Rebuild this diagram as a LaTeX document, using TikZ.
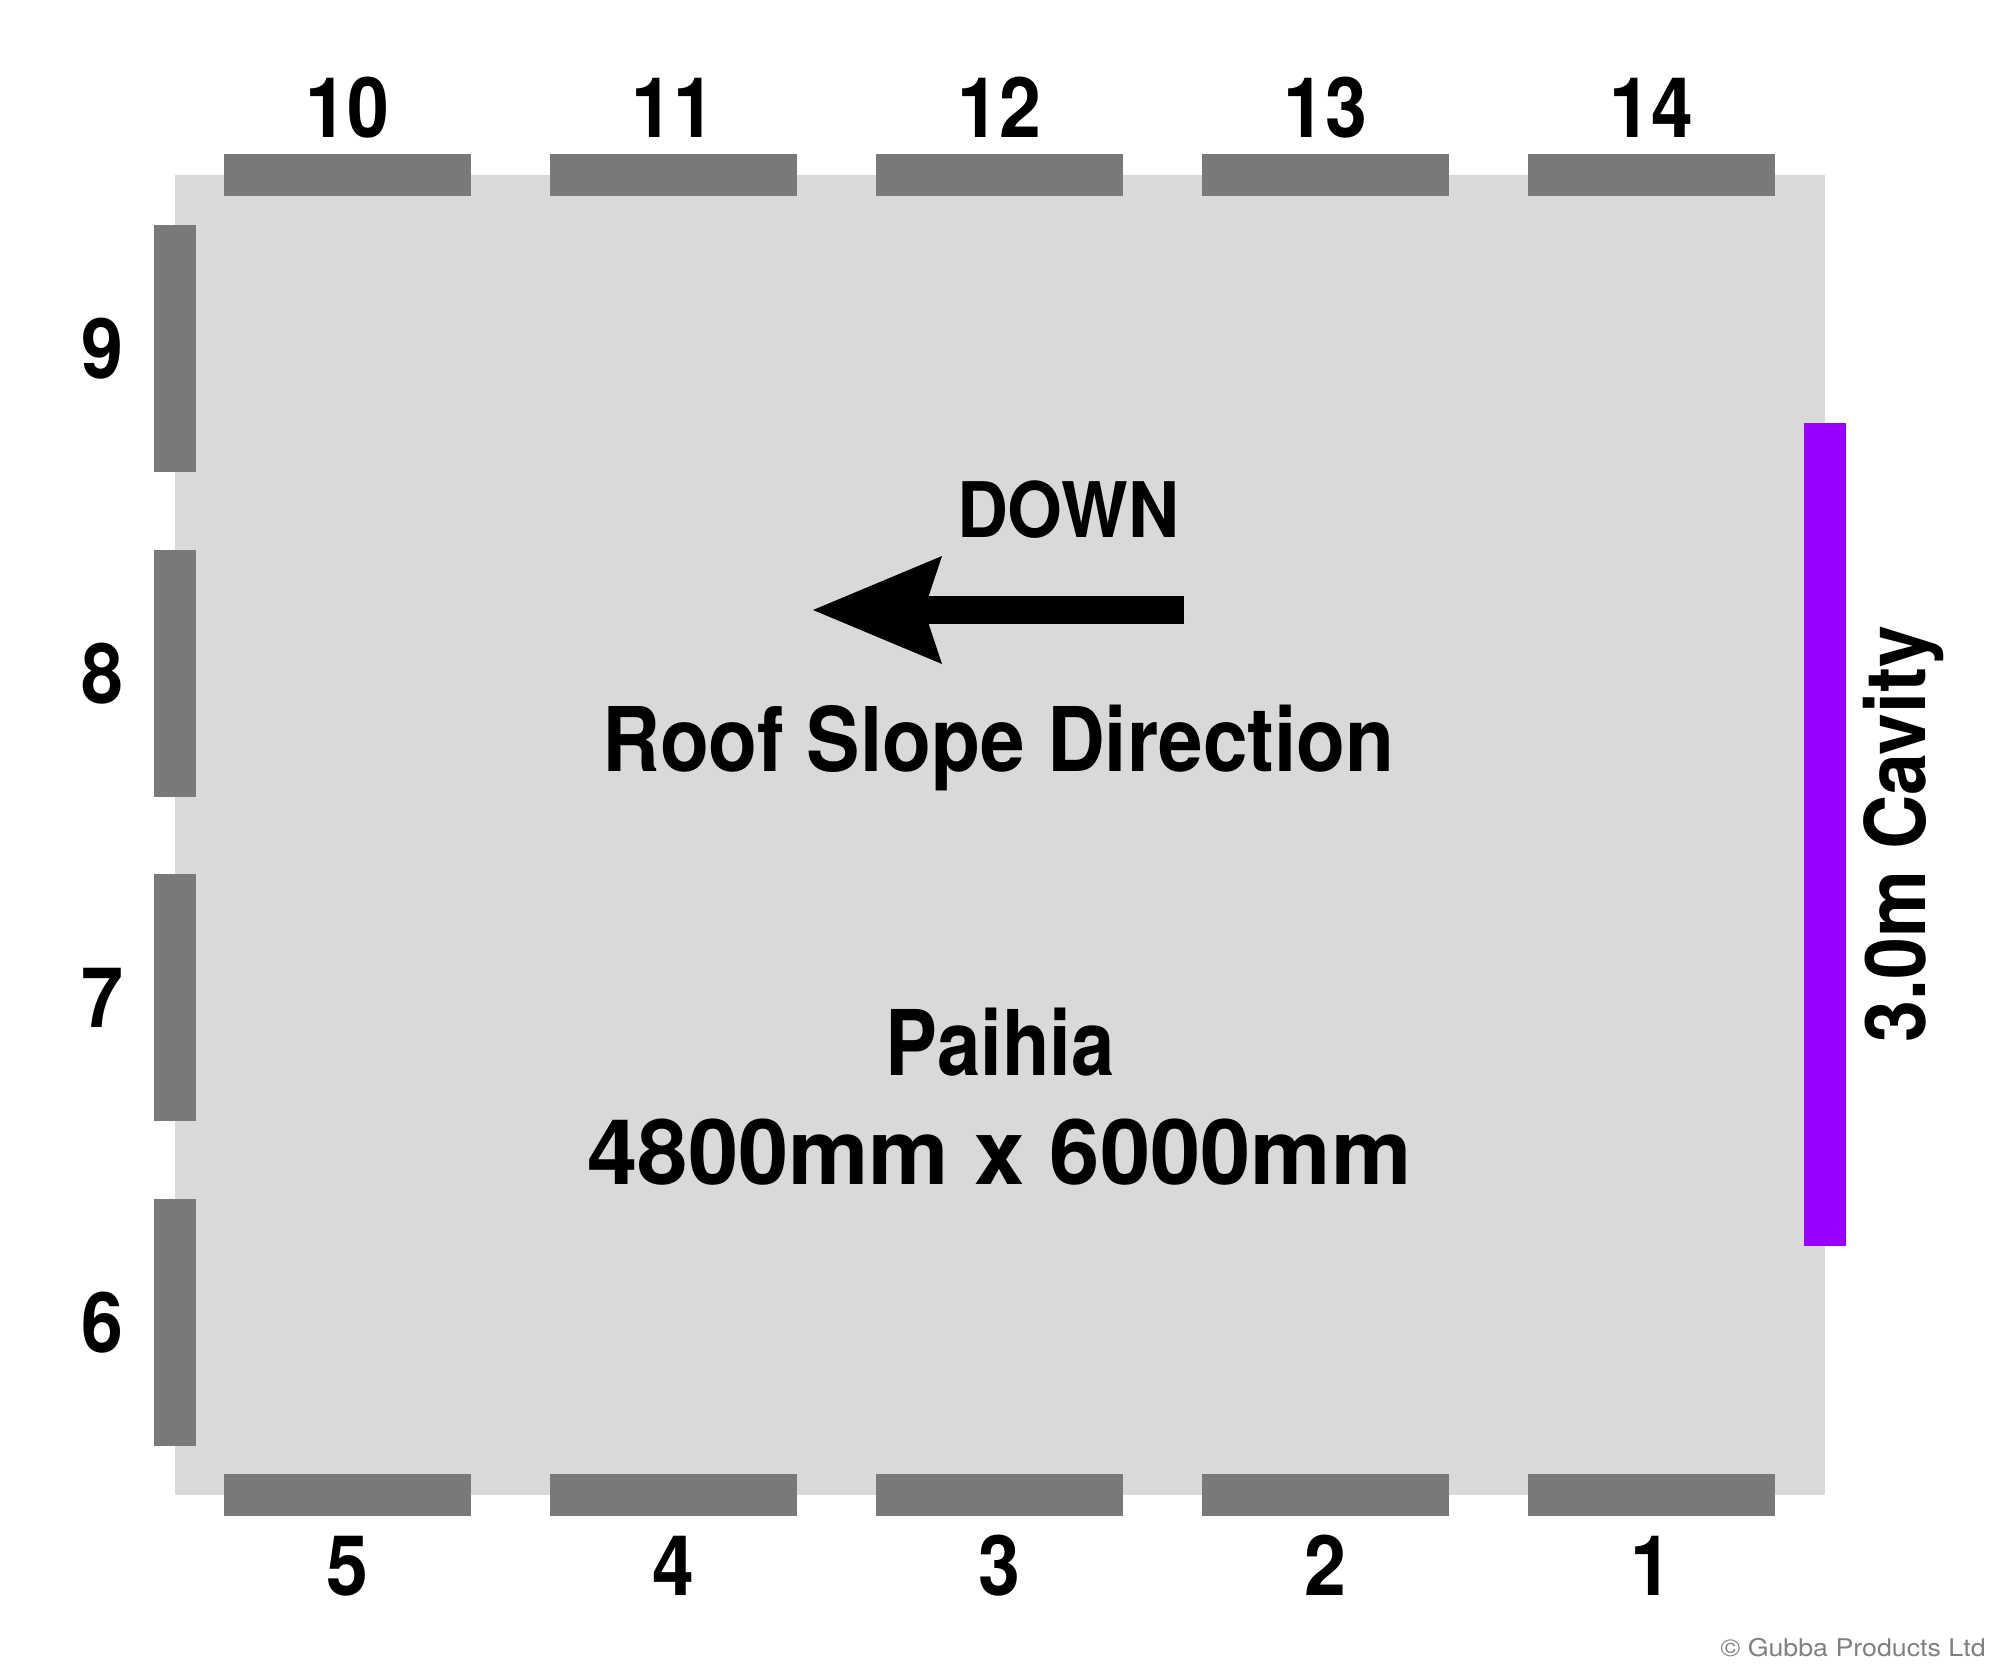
\documentclass[tikz,border=0pt]{standalone}
\usepackage{fontspec}
\setmainfont{TeX Gyre Heros}
\usetikzlibrary{arrows.meta}
\definecolor{roofgray}{HTML}{D9D9D9}
\definecolor{bargray}{HTML}{797979}
\definecolor{cavity}{HTML}{9900FF}
\definecolor{copygray}{HTML}{808080}
\newcommand{\fitw}[2]{\resizebox{#1}{\height}{#2}}
\tikzset{
  bar/.style={fill=bargray},
  numlabel/.style={font=\bfseries\fontsize{41.8}{48}\selectfont, anchor=base, inner sep=0pt},
  biglabel/.style={font=\bfseries\fontsize{45.3}{52}\selectfont, anchor=base, inner sep=0pt},
  slopearrow/.style={line width=14pt, -{Stealth[length=64.5pt, width=54pt, inset=9pt, line width=0pt]}},
}
\begin{document}
\begin{tikzpicture}[x=0.5pt, y=-0.5pt]
\useasboundingbox (0,0) rectangle (2000,1675);
% roof area
\fill[roofgray] (175,175) rectangle (1825,1495);
% top and bottom bars
\foreach \xs/\top/\bot [count=\i] in {224/10/5, 550/11/4, 876/12/3, 1202/13/2, 1528/14/1} {
  \fill[bar] (\xs,154) rectangle ++(247,42);
  \fill[bar] (\xs,1474) rectangle ++(247,42);
  \node[numlabel] (top\i) at (\xs+123.5,137) {\scalebox{0.9}[1]{\top}};
  \node[numlabel] (bot\i) at (\xs+123.5,1595) {\scalebox{0.9}[1]{\bot}};
}
% left bars
\foreach \ys/\lab [count=\i] in {225/9, 549.5/8, 874/7, 1198.5/6} {
  \fill[bar] (154,\ys) rectangle ++(42,247);
  \node[numlabel] (left\i) at (102,\ys+123.5+30) {\scalebox{0.9}[1]{\lab}};
}
% cavity
\fill[cavity] (1804,423) rectangle (1846,1246);
\node[numlabel, rotate=90] (cav) at (1925,834) {\fitw{208.5pt}{3.0m Cavity}};
% arrow
\node[font=\bfseries\fontsize{38.3}{44}\selectfont, anchor=base, inner sep=0pt] (down) at (1068,537) {\fitw{111pt}{DOWN}};
\coordinate (arrowtail) at (1184,610);
\coordinate (arrowtip) at (813,610);
\draw[slopearrow] (arrowtail) -- (arrowtip);
\node[font=\bfseries\fontsize{44.6}{52}\selectfont, anchor=base, inner sep=0pt] (slope) at (998.5,771) {\fitw{396pt}{Roof Slope Direction}};
\node[biglabel] (name) at (1000,1075) {\fitw{114.5pt}{Paihia}};
\node[biglabel] (size) at (999.5,1184) {\fitw{412pt}{4800mm x 6000mm}};
% copyright
\node[font=\fontsize{12.2}{14}\selectfont, text=copygray, anchor=base east, inner sep=0pt] (copy) at (1986,1656) {\fitw{132.5pt}{© Gubba Products Ltd}};
\end{tikzpicture}
\end{document}
